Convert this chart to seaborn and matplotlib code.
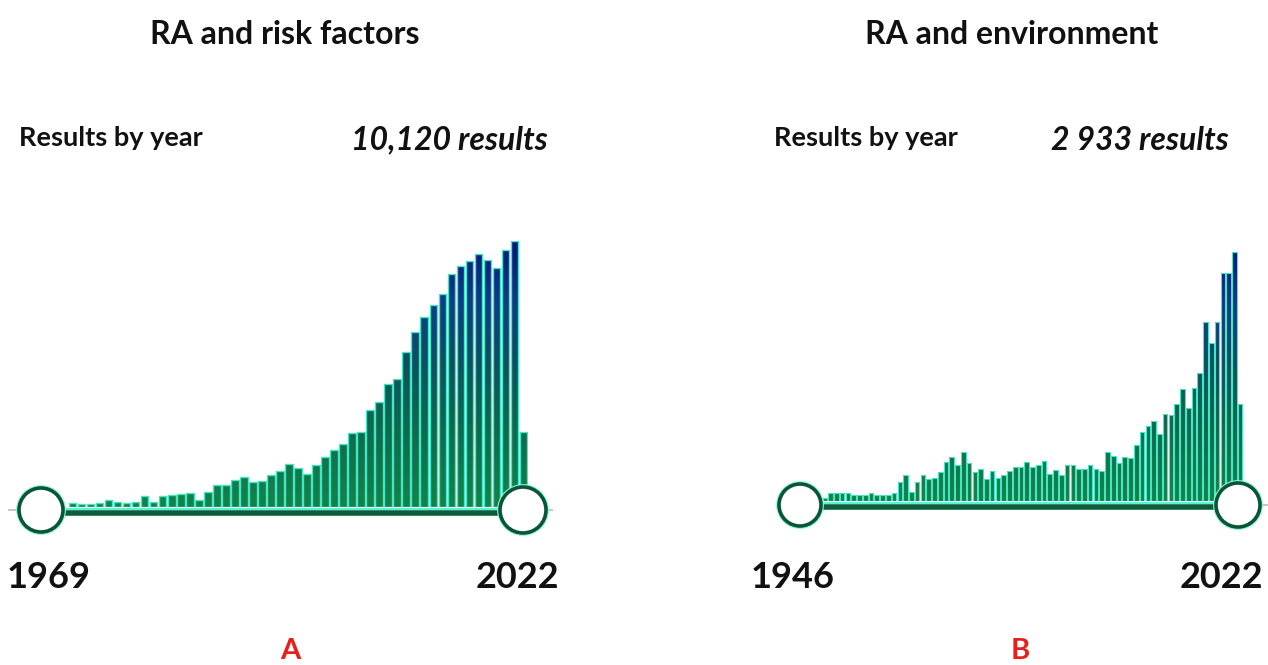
import numpy as np
import matplotlib
matplotlib.use("Agg")
import matplotlib.pyplot as plt
from matplotlib.colors import LinearSegmentedColormap
from matplotlib.patches import Circle
import seaborn as sns

# ---------------- data ----------------
titles = ["RA and risk factors", "RA and environment"]
totals = ["10,120 results", "2 933 results"]
start_years = ["1969", "1946"]
end_years = ["2022", "2022"]
letters = ["A", "B"]

counts_a = [9, 7, 7, 9, 17, 12, 9, 12, 26, 12, 26, 28, 31, 33, 17,
            36, 52, 52, 64, 71, 59, 62, 76,
            85, 102, 92, 78, 100, 119, 135, 149, 175, 178,
            230, 249, 292, 303, 367, 415, 450, 479, 505,
            552, 571, 583, 600, 585, 566, 609, 630, 178]

counts_b = [2, 6, 6, 6, 6, 5, 5, 5, 6, 5, 5, 5, 6,
            15, 20, 7, 15, 20, 17, 18, 22, 30, 34, 28, 38,
            29, 22, 25, 17, 23, 18, 20, 23, 26, 26, 30, 26, 28, 31, 21,
            24, 20, 28, 28, 25, 25, 28, 25, 23, 38,
            35, 29, 34, 33, 43, 53, 58, 62, 52, 67, 66, 75, 86, 72, 87,
            99, 138, 122, 138, 176, 176, 192, 75]

# ---------------- style ----------------
sns.set_theme(style="white")
plt.rcParams["font.family"] = ["Lato", "DejaVu Sans"]

W, H = 1268, 665
fig = plt.figure(figsize=(W / 100, H / 100), dpi=100)
fig.patch.set_facecolor("white")

grad_cmap = LinearSegmentedColormap.from_list(
    "pm", [(0.0, "#12844a"), (0.3, "#0c6a4e"), (0.55, "#0b5062"),
           (0.78, "#0d3c86"), (1.0, "#071678")])
EDGE = "#45e6c4"


def bar_axes(left, right, base, top, values, width, lw):
    ax = fig.add_axes([left / W, 1 - base / H, (right - left) / W, (base - top) / H])
    ax.set_zorder(1)
    n = len(values)
    sns.barplot(x=list(range(n)), y=values, ax=ax, color="#12844a",
                width=width, edgecolor=EDGE, linewidth=lw, saturation=1)
    ymax = max(values)
    grad = np.linspace(0, 1, 256).reshape(-1, 1)
    for p in ax.patches:
        x0 = p.get_x()
        x1 = x0 + p.get_width()
        p.set_facecolor("none")
        p.set_zorder(3)
        im = ax.imshow(grad, extent=[x0, x1, 0, ymax], origin="lower",
                       aspect="auto", cmap=grad_cmap, zorder=2)
        im.set_clip_path(p)
    ax.set_xlim(-0.5, n - 0.5)
    ax.set_ylim(0, ymax)
    ax.axis("off")
    return ax


ax_a = bar_axes(68, 528, 507, 241, counts_a, 0.84, 1.0)
ax_b = bar_axes(822, 1243, 501, 252, counts_b, 0.8, 0.8)

# overlay in pixel coordinates for slider and texts
ov = fig.add_axes([0, 0, 1, 1])
ov.set_zorder(5)
ov.set_xlim(0, W)
ov.set_ylim(H, 0)
ov.axis("off")
ov.patch.set_alpha(0)


def slider(xl, xr, yc, r_l, r_r, y_aqua, y_dark, grey_l, grey_r):
    ov.plot([grey_l, xr + 30], [yc, yc], color="#c8c8c8", lw=1.5, zorder=1,
            solid_capstyle="butt")
    ov.plot([xl, xr], [y_dark, y_dark], color="#0b5e3a", lw=4, zorder=2,
            solid_capstyle="butt")
    ov.plot([xl, xr], [y_aqua, y_aqua], color="#5ef0d2", lw=1.6, zorder=2,
            solid_capstyle="butt")
    for cx, r in ((xl, r_l), (xr, r_r)):
        ov.add_patch(Circle((cx, yc), r + 1.5, facecolor="none",
                            edgecolor="#8ff5dc", lw=2.0, zorder=3))
        ov.add_patch(Circle((cx, yc), r, facecolor="white",
                            edgecolor="#0a5634", lw=2.6, zorder=4))


slider(41, 523, 510, 22, 23, 508.5, 513, 8, 548)
slider(800, 1238, 505, 21, 22, 502.5, 506.5, 780, 1238)

TXT = "#111111"
title_x = [285, 1012]
for tx, title in zip(title_x, titles):
    ov.text(tx, 34, title, ha="center", va="center", fontsize=23,
            fontweight="bold", color=TXT)

ov.text(19, 138, "Results by year", ha="left", va="center", fontsize=19.5,
        fontweight="bold", color=TXT)
ov.text(774, 138, "Results by year", ha="left", va="center", fontsize=19.5,
        fontweight="bold", color=TXT)
ov.text(548, 140, totals[0], ha="right", va="center", fontsize=23,
        fontweight="bold", fontstyle="italic", color=TXT)
ov.text(1229, 140, totals[1], ha="right", va="center", fontsize=23,
        fontweight="bold", fontstyle="italic", color=TXT)

ov.text(7, 578, start_years[0], ha="left", va="center", fontsize=26,
        fontweight="bold", color=TXT)
ov.text(559, 578, end_years[0], ha="right", va="center", fontsize=26,
        fontweight="bold", color=TXT)
ov.text(751, 578, start_years[1], ha="left", va="center", fontsize=26,
        fontweight="bold", color=TXT)
ov.text(1263, 578, end_years[1], ha="right", va="center", fontsize=26,
        fontweight="bold", color=TXT)

ov.text(290, 651, letters[0], ha="center", va="center", fontsize=21,
        fontweight="bold", color="#e8201c")
ov.text(1020, 651, letters[1], ha="center", va="center", fontsize=21,
        fontweight="bold", color="#e8201c")

fig.savefig("out.png", dpi=100, facecolor="white")
